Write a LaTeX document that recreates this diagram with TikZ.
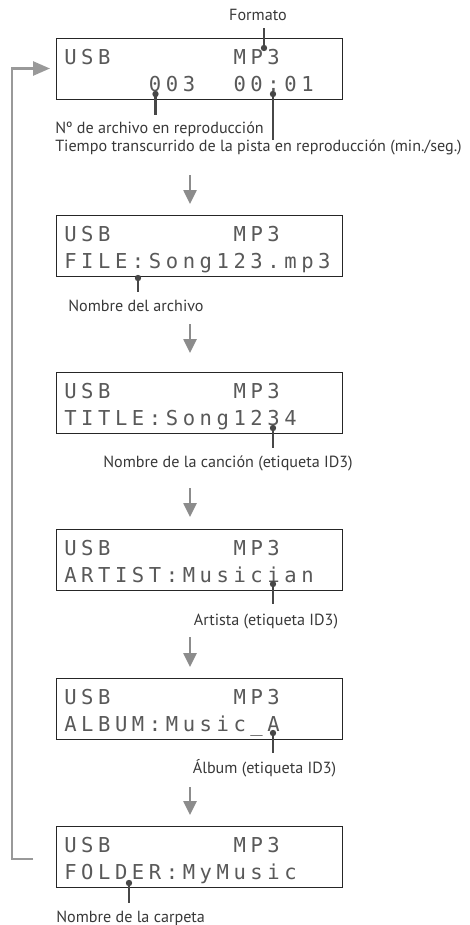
\documentclass[tikz,border=0pt]{standalone}
\usepackage{fontspec}
\setmainfont{PT Sans}
\newfontfamily\lcdfont{DejaVu Sans Mono}
\usetikzlibrary{arrows.meta}

% one LCD cell per character
\newlength\lcdpitch
\setlength\lcdpitch{12.7pt}
\def\lcdloop#1{\ifx\relax#1\else\makebox[\lcdpitch][c]{#1}\expandafter\lcdloop\fi}
\newcommand\lcdtext[1]{\expandafter\lcdloop#1\relax}

\begin{document}
\begin{tikzpicture}[
    x=0.75pt, y=-0.75pt,
    % Styles
    lcd_box/.style={draw=black!85, line width=0.9pt, fill=white, inner sep=0pt,
        minimum width=214.5pt, minimum height=45.75pt, anchor=north west},
    lcd_text/.style={font=\lcdfont\fontsize{15.4}{15.4}\selectfont, text=black!65,
        inner sep=0pt, anchor=base west},
    note_text/.style={font=\fontsize{12.1}{14}\selectfont, text=black!78, inner sep=0pt},
    pointer_line/.style={black!72, line width=1.7pt},
    pointer_dot/.style={circle, fill=black!72, inner sep=0pt, minimum size=4.8pt},
    flow_arrow/.style={black!45, line width=1.9pt, -{Triangle[length=10.5pt, width=9.75pt]}},
    loop_arrow/.style={black!40, line width=1.9pt, -{Triangle[length=12.75pt, width=10.5pt]}}
]
    \useasboundingbox (0,0) rectangle (469,925);

    % ==========================================
    % 1. DISPLAYS
    % ==========================================
    \foreach \i/\top/\rowa/\rowb in {
        1/38/{USB~~~~~~~MP3}/{~~~~~003~~00:01},
        2/215/{USB~~~~~~~MP3}/{FILE:Song123.mp3},
        3/372/{USB~~~~~~~MP3}/{TITLE:Song1234},
        4/529/{USB~~~~~~~MP3}/{ARTIST:Musician},
        5/678/{USB~~~~~~~MP3}/{ALBUM:Music\_A},
        6/826/{USB~~~~~~~MP3}/{FOLDER:MyMusic}} {
        \node[lcd_box] (disp\i) at (56,\top) {};
        \node[lcd_text] (lcd\i-1) at (61.7,\top+26) {\lcdtext{\rowa}};
        \node[lcd_text] (lcd\i-2) at (61.7,\top+53) {\lcdtext{\rowb}};
    }

    % ==========================================
    % 2. LABELS
    % ==========================================
    \node[note_text, anchor=base] (lbl_fmt) at (258,20.7) {Formato};
    \node[note_text, anchor=base west] (lbl_num) at (55,133.5) {Nº de archivo en reproducción};
    \node[note_text, anchor=base west] (lbl_time) at (55,151) {Tiempo transcurrido de la pista en reproducción (min./seg.)};
    \node[note_text, anchor=base west] (lbl_file) at (68,311.7) {Nombre del archivo};
    \node[note_text, anchor=base] (lbl_title) at (228,467.3) {Nombre de la canción (etiqueta ID3)};
    \node[note_text, anchor=base] (lbl_artist) at (266,625) {Artista (etiqueta ID3)};
    \node[note_text, anchor=base] (lbl_album) at (264.5,773.3) {Álbum (etiqueta ID3)};
    \node[note_text, anchor=base west] (lbl_folder) at (56,922.3) {Nombre de la carpeta};

    % ==========================================
    % 3. POINTERS (dot on the display, line to the label)
    % ==========================================
    \foreach \n/\px/\py/\pe in {fmt/264/48/28, num/155.5/94/115, time/273/94/140,
        file/138/278/292, title/273/428/448, artist/273/584/604,
        album/273/733/753, folder/129/883/903} {
        \node[pointer_dot] (dot_\n) at (\px,\py) {};
        \coordinate (end_\n) at (\px,\pe);
        \draw[pointer_line] (dot_\n.center) -- (end_\n);
    }

    % ==========================================
    % 4. FLOW ARROWS
    % ==========================================
    \foreach \i/\ys/\ye in {1/175/204, 2/324/353, 3/488/517, 4/637/667, 5/787/815} {
        \coordinate (fa\i) at (190,\ys);
        \coordinate (fb\i) at (190,\ye);
        \draw[flow_arrow] (fa\i) -- (fb\i);
    }

    % back to the first display
    \coordinate (loop_start) at (33,859);
    \coordinate (loop_end) at (50,68.5);
    \draw[loop_arrow] (loop_start) -- ++(-21,0) |- (loop_end);

\end{tikzpicture}
\end{document}
